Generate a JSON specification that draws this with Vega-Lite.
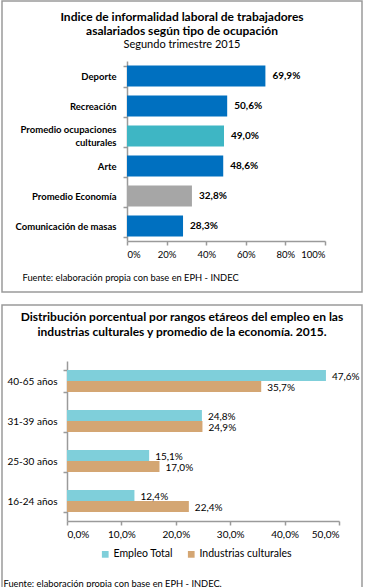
{
  "$schema": "https://vega.github.io/schema/vega-lite/v6.json",
  "padding": {"left": 1, "top": 0, "right": 0, "bottom": 0},
  "background": "white",
  "spacing": 11,
  "resolve": {"scale": {"color": "independent", "x": "independent", "y": "independent"}, "legend": {"color": "independent"}},
  "config": {
    "font": "Lato",
    "locale": {"number": {"decimal": ",", "thousands": ".", "grouping": [3], "currency": ["", " €"]}},
    "view": {"stroke": "#9a9a9a", "strokeWidth": 1.5},
    "axis": {"domainColor": "#9a9a9a", "tickColor": "#9a9a9a", "labelColor": "#000", "grid": false, "domainWidth": 1.5, "tickWidth": 1.5},
    "legend": {"padding": 0}
  },
  "vconcat": [
    {
      "width": 360,
      "height": 291,
      "title": {
        "text": ["Indice de informalidad laboral de trabajadores", "asalariados según tipo de ocupación"],
        "subtitle": "Segundo trimestre 2015",
        "anchor": "middle",
        "offset": -50,
        "fontSize": 12,
        "fontWeight": "bold",
        "color": "#000",
        "lineHeight": 14,
        "subtitleFontSize": 11,
        "subtitleColor": "#000",
        "subtitlePadding": 1
      },
      "data": {"values": [
        {"ocupacion": "Deporte", "valor": 0.699, "grupo": "Sector"},
        {"ocupacion": "Recreación", "valor": 0.506, "grupo": "Sector"},
        {"ocupacion": "Promedio ocupaciones culturales", "valor": 0.490, "grupo": "Promedio cultural"},
        {"ocupacion": "Arte", "valor": 0.486, "grupo": "Sector"},
        {"ocupacion": "Promedio Economía", "valor": 0.328, "grupo": "Promedio economía"},
        {"ocupacion": "Comunicación  de masas", "valor": 0.283, "grupo": "Sector"}
      ]},
      "encoding": {
        "y": {
          "field": "ocupacion", "type": "nominal",
          "sort": ["Deporte", "Recreación", "Promedio ocupaciones culturales", "Arte", "Promedio Economía", "Comunicación  de masas"],
          "scale": {"range": [60, 240], "paddingInner": 0.3, "paddingOuter": 0.15},
          "axis": {
            "title": null, "offset": -125, "tickBand": "extent", "tickSize": 4, "labelPadding": 7,
            "labelFontWeight": "bold", "labelLineHeight": 13,
            "labelFontSize": {"condition": {"test": "!datum.label", "value": 0}, "value": 9.5},
            "labelOffset": {"condition": {"test": "datum.value == 'Promedio ocupaciones culturales'", "value": -6.5}, "value": 0},
            "labelExpr": "datum.value == 'Promedio ocupaciones culturales' ? ['Promedio ocupaciones', 'culturales\u00a0\u00a0\u00a0\u00a0\u00a0\u00a0\u00a0\u00a0\u00a0\u00a0\u00a0\u00a0\u00a0\u00a0'] : datum.label"
          }
        },
        "x": {
          "field": "valor", "type": "quantitative",
          "scale": {"domain": [0, 1], "range": [125, 323]},
          "axis": {
            "values": [0, 0.2, 0.4, 0.6, 0.8, 1], "format": ".0%", "offset": -51, "tickSize": 4,
            "labelFontSize": 9.5, "labelPadding": 4,
            "title": "Fuente: elaboración propia con base en EPH - INDEC",
            "titleX": 20, "titleY": 36, "titleAlign": "left", "titleBaseline": "middle",
            "titleFontWeight": "normal", "titleFontSize": 9.3, "titleColor": "#000"
          }
        }
      },
      "layer": [
        {
          "mark": {"type": "bar"},
          "encoding": {
            "color": {
              "field": "grupo", "type": "nominal",
              "scale": {"domain": ["Sector", "Promedio cultural", "Promedio economía"], "range": ["#0070C0", "#3EB6C4", "#A6A6A6"]},
              "legend": null
            }
          }
        },
        {
          "mark": {"type": "text", "align": "left", "dx": 7, "fontWeight": "bold", "fontSize": 10, "color": "#000"},
          "encoding": {"text": {"field": "valor", "type": "quantitative", "format": ".1%"}}
        }
      ]
    },
    {
      "width": 360,
      "height": 284,
      "title": {
        "text": ["Distribución porcentual por rangos etáreos del empleo en las", "industrias culturales y promedio de la economía. 2015."],
        "anchor": "middle",
        "offset": -33.5,
        "fontSize": 12,
        "fontWeight": "bold",
        "color": "#000",
        "lineHeight": 15
      },
      "data": {"values": [
        {"rango": "40-65 años", "serie": "Empleo Total", "valor": 0.476},
        {"rango": "40-65 años", "serie": "Industrias culturales", "valor": 0.357},
        {"rango": "31-39 años", "serie": "Empleo Total", "valor": 0.248},
        {"rango": "31-39 años", "serie": "Industrias culturales", "valor": 0.249},
        {"rango": "25-30 años", "serie": "Empleo Total", "valor": 0.151},
        {"rango": "25-30 años", "serie": "Industrias culturales", "valor": 0.170},
        {"rango": "16-24 años", "serie": "Empleo Total", "valor": 0.124},
        {"rango": "16-24 años", "serie": "Industrias culturales", "valor": 0.224}
      ]},
      "encoding": {
        "y": {
          "field": "rango", "type": "nominal",
          "sort": ["40-65 años", "31-39 años", "25-30 años", "16-24 años"],
          "scale": {"range": [56, 216], "paddingInner": 0.45, "paddingOuter": 0.225},
          "axis": {
            "title": null, "offset": -65, "tickBand": "extent", "tickSize": 4, "labelPadding": 6,
            "labelFontSize": {"condition": {"test": "!datum.label", "value": 0}, "value": 10}
          }
        },
        "yOffset": {"field": "serie", "type": "nominal", "sort": ["Empleo Total", "Industrias culturales"], "scale": {"paddingInner": 0, "paddingOuter": 0}},
        "x": {
          "field": "valor", "type": "quantitative",
          "scale": {"domain": [0, 0.5], "range": [65, 337]},
          "axis": {
            "values": [0, 0.1, 0.2, 0.3, 0.4, 0.5], "format": ".1%", "offset": -68, "tickSize": 4,
            "labelFontSize": 10, "labelPadding": 4,
            "title": "Fuente: elaboración propia con base en EPH - INDEC.",
            "titleX": 1, "titleY": 62, "titleAlign": "left", "titleBaseline": "middle",
            "titleFontWeight": "normal", "titleFontSize": 9.3, "titleColor": "#000"
          }
        }
      },
      "layer": [
        {
          "mark": {"type": "bar"},
          "encoding": {
            "color": {
              "field": "serie", "type": "nominal",
              "scale": {"domain": ["Empleo Total", "Industrias culturales"], "range": ["#7FCFDA", "#D4A673"]},
              "legend": {
                "title": null, "orient": "none", "legendX": 98, "legendY": 244, "direction": "horizontal",
                "symbolType": "square", "symbolSize": 45, "symbolStrokeWidth": 0,
                "labelFontSize": 10.5, "labelColor": "#000", "labelOffset": 3, "columnPadding": 13
              }
            }
          }
        },
        {
          "mark": {"type": "text", "align": "left", "dx": 6, "dy": 1, "fontSize": 10, "color": "#000"},
          "encoding": {"text": {"field": "valor", "type": "quantitative", "format": ".1%"}}
        }
      ]
    }
  ]
}
